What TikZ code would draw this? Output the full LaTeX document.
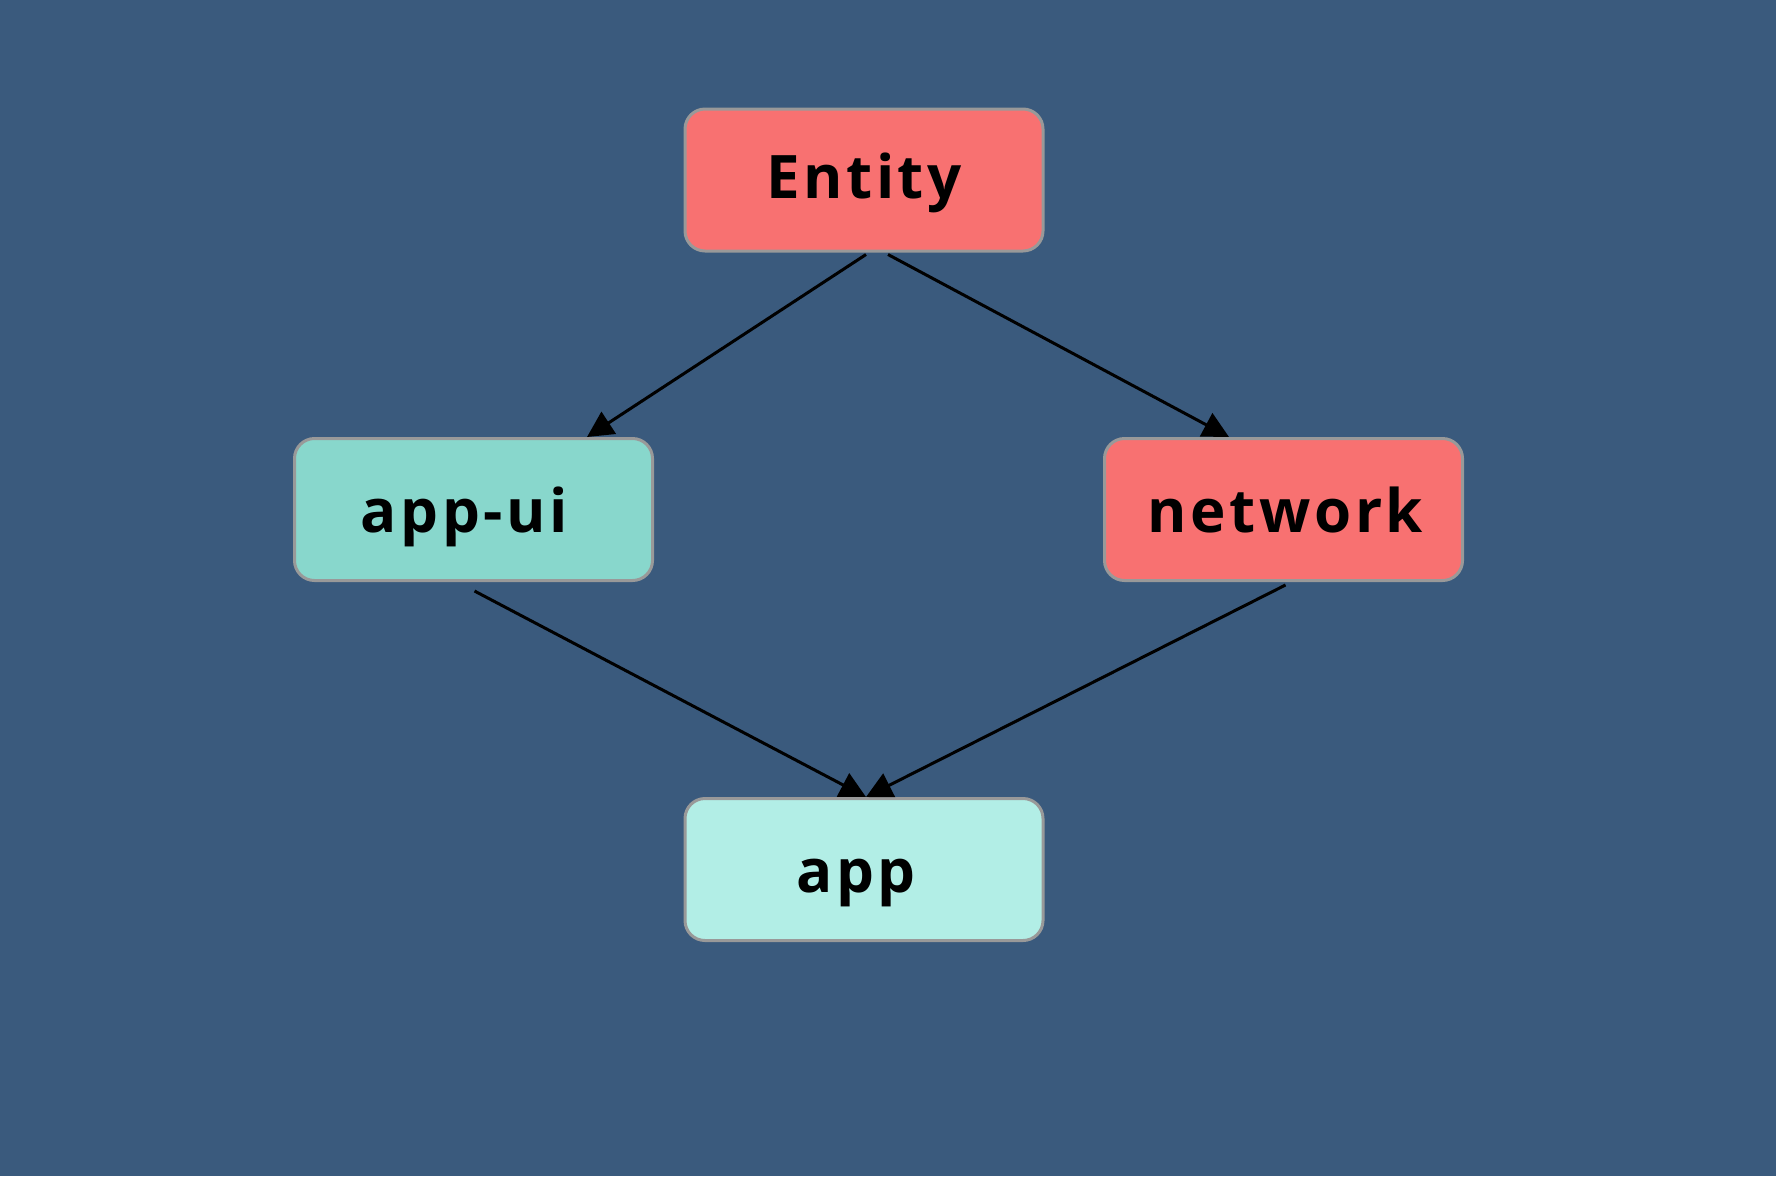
\documentclass[tikz,border=0pt]{standalone}
\usepackage{fontspec}
\setmainfont{Open Sans}
\newfontfamily\lblfont[LetterSpace=6]{Open Sans}
\usetikzlibrary{arrows.meta,calc}
\definecolor{bgc}{HTML}{3A5A7D}
\definecolor{redc}{HTML}{F87171}
\definecolor{tealc}{HTML}{88D7CC}
\definecolor{lightc}{HTML}{B2EEE6}
\definecolor{bordc}{HTML}{999999}
\tikzset{
  box/.style={draw=bordc, line width=3pt, rounded corners=20pt,
    minimum width=358pt, minimum height=142pt, inner sep=0pt},
  lbl/.style={font=\lblfont\bfseries\fontsize{60}{70}\selectfont, text=black, anchor=base},
  edge/.style={draw=black, line width=3pt, -{Triangle[length=26pt,width=26pt]}}
}
\begin{document}
\begin{tikzpicture}[x=1pt,y=-1pt]
\fill[bgc] (0,0) rectangle (1776,1176);
\useasboundingbox (0,0) rectangle (1776,1176);
\node[box, fill=redc] (entity) at (864,180) {};
\node[box, fill=tealc] (appui) at (473.5,509.5) {};
\node[box, fill=redc] (network) at (1283.5,509.5) {};
\node[box, fill=lightc] (app) at (864,869.5) {};
\node[lbl] (tentity) at (864,198) {Entity};
\node[lbl] (tappui) at (464.5,532) {app-ui};
\node[lbl] (tnetwork) at (1285.5,532) {network};
\node[lbl] (tapp) at (856,892) {app};
\draw[edge] ($(entity.south)+(2,2)$) -- ($(appui.north)+(113.5,0)$);
\draw[edge] ($(entity.south)+(24,2)$) -- ($(network.north)+(-54.5,0)$);
\draw[edge] ($(appui.south)+(1,9)$) -- ($(app.north)+(2,0)$);
\draw[edge] ($(network.south)+(2,3)$) -- ($(app.north)+(2,0)$);
\end{tikzpicture}
\end{document}
